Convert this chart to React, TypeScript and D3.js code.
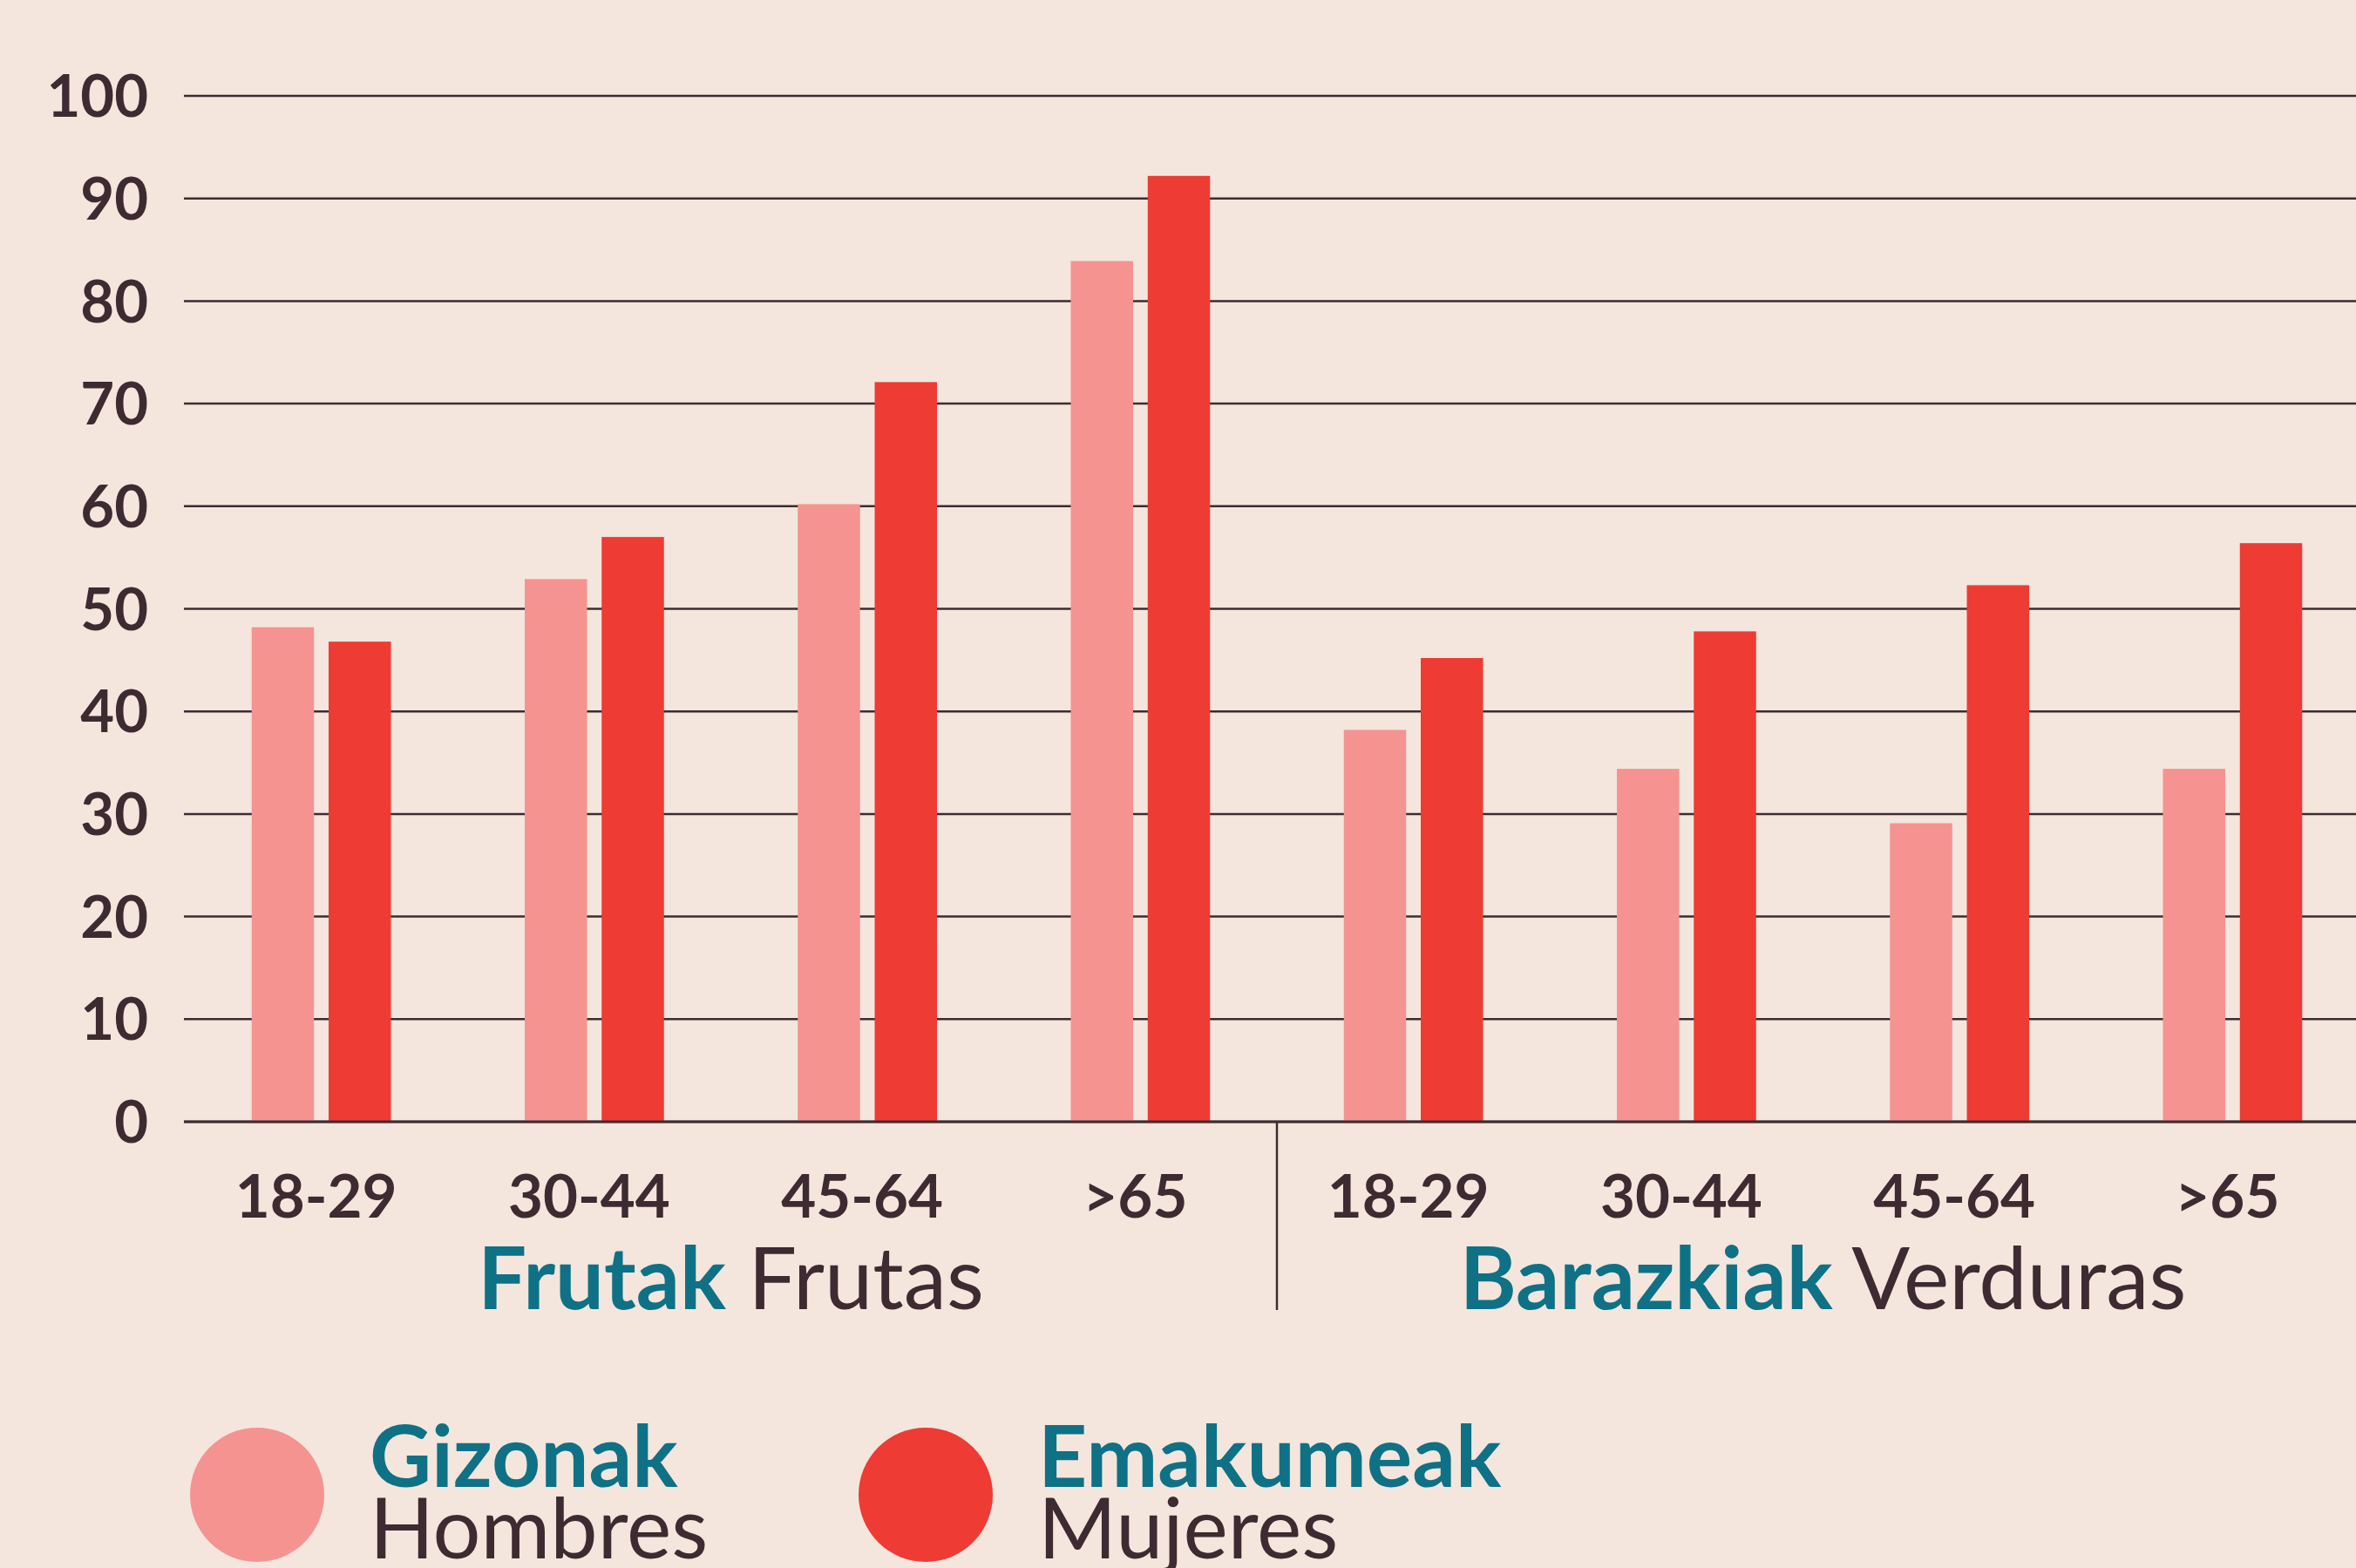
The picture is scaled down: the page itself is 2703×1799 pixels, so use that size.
import React, { useRef, useEffect } from "react";
import * as d3 from "d3";

const ageGroups = ["18-29", "30-44", "45-64", ">65"];
const foodGroups = [
  { eu: "Frutak", es: "Frutas" },
  { eu: "Barazkiak", es: "Verduras" },
];
const menFruit = [48.2, 52.9, 60.2, 83.9];
const womenFruit = [46.8, 57.0, 72.1, 92.2];
const menVeg = [38.2, 34.4, 29.1, 34.4];
const womenVeg = [45.2, 47.8, 52.3, 56.4];
const yTicks = [0, 10, 20, 30, 40, 50, 60, 70, 80, 90, 100];
const series = [
  { key: "men", eu: "Gizonak", es: "Hombres", color: "#f59391" },
  { key: "women", eu: "Emakumeak", es: "Mujeres", color: "#ee3b33" },
];

const BG = "#f4e6dd";
const DARK = "#3d2b31";
const TEAL = "#0f7185";
const FONT = "Lato, 'Open Sans', sans-serif";

export default function App() {
  const ref = useRef(null);
  const width = 2703;
  const height = 1799;

  useEffect(() => {
    const svg = d3.select(ref.current);
    svg.selectAll("*").remove();

    const rows = [];
    foodGroups.forEach((g, gi) => {
      const men = gi === 0 ? menFruit : menVeg;
      const women = gi === 0 ? womenFruit : womenVeg;
      ageGroups.forEach((a, i) => {
        rows.push({ id: g.es + a, age: a, group: gi, men: men[i], women: women[i] });
      });
    });

    const x0 = d3
      .scaleBand()
      .domain(rows.map((d) => d.id))
      .range([212, 2718])
      .paddingInner(0.49)
      .paddingOuter(0.245);
    const x1 = d3
      .scaleBand()
      .domain(series.map((s) => s.key))
      .range([0, x0.bandwidth()])
      .paddingInner(0.19);
    const y = d3.scaleLinear().domain([0, 100]).range([1287, 110]);

    svg.append("rect").attr("width", width).attr("height", height).attr("fill", BG);

    // gridlines
    svg
      .append("g")
      .selectAll("line")
      .data(yTicks)
      .join("line")
      .attr("x1", 211)
      .attr("x2", width)
      .attr("y1", (d) => y(d))
      .attr("y2", (d) => y(d))
      .attr("stroke", DARK)
      .attr("stroke-width", 2.5);

    svg
      .append("g")
      .selectAll("text")
      .data(yTicks)
      .join("text")
      .attr("x", 170)
      .attr("y", (d) => y(d))
      .attr("dy", "0.36em")
      .attr("text-anchor", "end")
      .attr("font-family", FONT)
      .attr("font-weight", 700)
      .attr("font-size", 67)
      .attr("fill", DARK)
      .text((d) => d);

    // bars
    const groups = svg
      .append("g")
      .selectAll("g")
      .data(rows)
      .join("g")
      .attr("transform", (d) => `translate(${x0(d.id)},0)`);
    groups
      .selectAll("rect")
      .data((d) => series.map((s) => ({ key: s.key, color: s.color, value: d[s.key] })))
      .join("rect")
      .attr("x", (d) => x1(d.key))
      .attr("width", x1.bandwidth())
      .attr("y", (d) => y(d.value))
      .attr("height", (d) => y(0) - y(d.value))
      .attr("fill", (d) => d.color);

    // zero line on top
    svg
      .append("line")
      .attr("x1", 211)
      .attr("x2", width)
      .attr("y1", y(0))
      .attr("y2", y(0))
      .attr("stroke", DARK)
      .attr("stroke-width", 3);

    // age labels
    svg
      .append("g")
      .selectAll("text")
      .data(rows)
      .join("text")
      .attr("x", (d) => x0(d.id) + x0.bandwidth() / 2 - 6)
      .attr("y", 1397)
      .attr("text-anchor", "middle")
      .attr("font-family", FONT)
      .attr("font-weight", 700)
      .attr("font-size", 69)
      .attr("fill", DARK)
      .text((d) => d.age);

    // divider between groups
    const divX = (x0(rows[3].id) + x0.bandwidth() + x0(rows[4].id)) / 2;
    svg
      .append("line")
      .attr("x1", divX)
      .attr("x2", divX)
      .attr("y1", y(0))
      .attr("y2", 1503)
      .attr("stroke", DARK)
      .attr("stroke-width", 2.5);

    // group labels
    foodGroups.forEach((g, gi) => {
      const first = rows[gi * 4];
      const last = rows[gi * 4 + 3];
      const cx = (x0(first.id) + x0(last.id) + x0.bandwidth()) / 2;
      const t = svg
        .append("text")
        .attr("x", cx)
        .attr("y", 1502)
        .attr("text-anchor", "middle")
        .attr("font-family", FONT)
        .attr("font-size", 99)
        .attr("fill", DARK);
      t.append("tspan").attr("font-weight", 700).attr("fill", TEAL).text(g.eu);
      t.append("tspan").attr("font-weight", 400).text(" " + g.es);
    });

    // legend
    const legendX = [295, 1062];
    series.forEach((s, i) => {
      const lg = svg.append("g").attr("transform", `translate(${legendX[i]},1715)`);
      lg.append("circle").attr("r", 77).attr("fill", s.color);
      lg.append("text")
        .attr("x", 129)
        .attr("y", -9)
        .attr("font-family", FONT)
        .attr("font-weight", 700)
        .attr("font-size", 98)
        .attr("fill", TEAL)
        .text(s.eu);
      lg.append("text")
        .attr("x", 129)
        .attr("y", 73)
        .attr("font-family", FONT)
        .attr("font-weight", 400)
        .attr("font-size", 97)
        .attr("fill", DARK)
        .text(s.es);
    });
  }, []);

  return (
    <svg
      ref={ref}
      width={width}
      height={height}
      style={{ position: "absolute", left: 0, top: 0, display: "block" }}
    ></svg>
  );
}
